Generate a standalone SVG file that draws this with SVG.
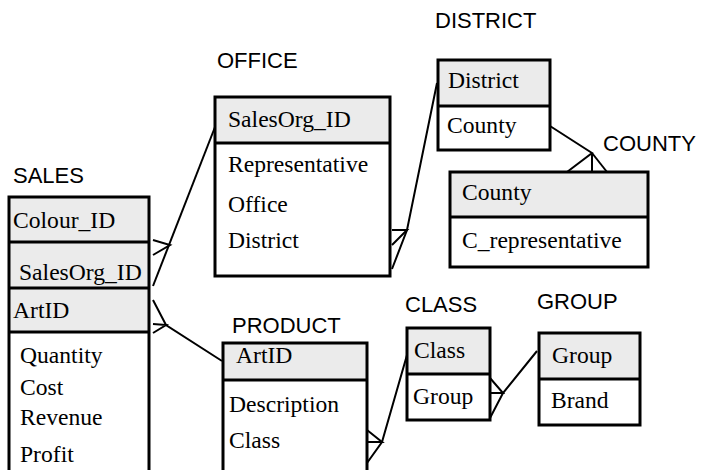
<svg xmlns="http://www.w3.org/2000/svg" width="710" height="470" viewBox="0 0 710 470">
<style>
.lbl{font-family:"Liberation Sans",Arial,sans-serif;font-size:22px;fill:#000}
.t{font-family:"Liberation Serif","Times New Roman",serif;font-size:23.6px;fill:#000}
.box{fill:none;stroke:#000;stroke-width:3}
.hd{fill:#ebebeb;stroke:none}
.sep{stroke:#000;stroke-width:3}
.c{fill:none;stroke:#000;stroke-width:2}
</style>
<rect width="710" height="470" fill="#fff"/>
<g id="sales">
<rect class="hd" x="9" y="197" width="140" height="135"/>
<line class="sep" x1="9" y1="242" x2="149" y2="242"/>
<line class="sep" x1="9" y1="288" x2="149" y2="288"/>
<line class="sep" x1="9" y1="332" x2="149" y2="332"/>
<rect class="box" x="9" y="197" width="140" height="285"/>
<text class="lbl" x="13" y="183">SALES</text>
<text class="t" x="13" y="228">Colour_ID</text>
<text class="t" x="19" y="280">SalesOrg_ID</text>
<text class="t" x="13" y="318">ArtID</text>
<text class="t" x="20" y="363">Quantity</text>
<text class="t" x="20" y="395">Cost</text>
<text class="t" x="20" y="425">Revenue</text>
<text class="t" x="20" y="462">Profit</text>
</g>
<g id="office">
<rect class="hd" x="215" y="97" width="175" height="46"/>
<line class="sep" x1="215" y1="143" x2="390" y2="143"/>
<rect class="box" x="215" y="97" width="175" height="179"/>
<text class="lbl" x="217" y="68">OFFICE</text>
<text class="t" x="228" y="127">SalesOrg_ID</text>
<text class="t" x="228" y="172">Representative</text>
<text class="t" x="228" y="212">Office</text>
<text class="t" x="228" y="248">District</text>
</g>
<g id="district">
<rect class="hd" x="438" y="60" width="112" height="46"/>
<line class="sep" x1="438" y1="106" x2="550" y2="106"/>
<rect class="box" x="438" y="60" width="112" height="90"/>
<text class="lbl" x="435" y="28">DISTRICT</text>
<text class="t" x="448" y="88">District</text>
<text class="t" x="447" y="133">County</text>
</g>
<g id="county">
<rect class="hd" x="450" y="172" width="198" height="45"/>
<line class="sep" x1="450" y1="217" x2="648" y2="217"/>
<rect class="box" x="450" y="172" width="198" height="95"/>
<text class="lbl" x="603" y="151">COUNTY</text>
<text class="t" x="462" y="200">County</text>
<text class="t" x="462" y="248">C_representative</text>
</g>
<g id="product">
<rect class="hd" x="223" y="343" width="144" height="37"/>
<line class="sep" x1="223" y1="380" x2="367" y2="380"/>
<rect class="box" x="223" y="343" width="144" height="140"/>
<text class="lbl" x="232" y="333">PRODUCT</text>
<text class="t" x="236" y="363">ArtID</text>
<text class="t" x="229" y="412">Description</text>
<text class="t" x="229" y="448">Class</text>
</g>
<g id="class">
<rect class="hd" x="407" y="328" width="83" height="46"/>
<line class="sep" x1="407" y1="374" x2="490" y2="374"/>
<rect class="box" x="407" y="328" width="83" height="92"/>
<text class="lbl" x="405" y="312">CLASS</text>
<text class="t" x="414" y="358">Class</text>
<text class="t" x="413" y="404">Group</text>
</g>
<g id="group">
<rect class="hd" x="539" y="333" width="101" height="46"/>
<line class="sep" x1="539" y1="379" x2="640" y2="379"/>
<rect class="box" x="539" y="333" width="101" height="92"/>
<text class="lbl" x="537" y="309">GROUP</text>
<text class="t" x="552" y="363">Group</text>
<text class="t" x="551" y="408">Brand</text>
</g>
<g id="connectors">
<polyline class="c" points="153,286 215,127"/>
<polyline class="c" points="153,240 170,245 153,255"/>
<polyline class="c" points="153,300 166,325 222,361"/>
<polyline class="c" points="153,324 166,325 153,333"/>
<polyline class="c" points="392,269 407,230 437,83"/>
<polyline class="c" points="392,230 407,230 392,245"/>
<polyline class="c" points="550,126 592,153 567,172"/>
<polyline class="c" points="592,153 592,172"/>
<polyline class="c" points="592,153 607,172"/>
<polyline class="c" points="367,463 382,442 407,355"/>
<polyline class="c" points="367,430 382,442 367,442"/>
<polyline class="c" points="490,418 503,393 537,351"/>
<polyline class="c" points="490,378 503,393 490,393"/>
</g>
</svg>
